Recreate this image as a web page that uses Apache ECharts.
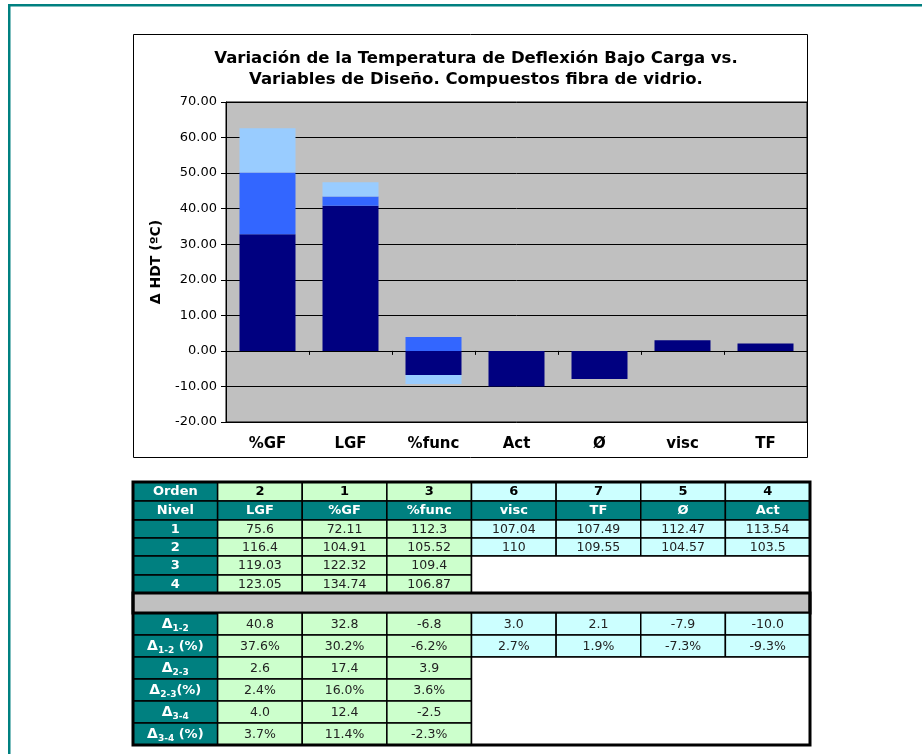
<!DOCTYPE html>
<html><head><meta charset="utf-8">
<script src="https://cdn.jsdelivr.net/npm/echarts@6/dist/echarts.min.js"></script>
<style>html,body{margin:0;padding:0;background:#fff}#c{width:922px;height:754px}</style>
</head><body><div id="c"></div>
<script>
// ---------- chart data ----------
const chartTitle = 'Variación de la Temperatura de Deflexión Bajo Carga vs.\nVariables de Diseño. Compuestos fibra de vidrio.';
const yAxisName = 'Δ HDT (ºC)';
const chartCategories = ['%GF', 'LGF', '%func', 'Act', 'Ø', 'visc', 'TF'];
const barDelta12 = [32.8, 40.8, -6.8, -10.0, -7.9, 3.0, 2.1];
const barDelta23 = [17.4, 2.6, 3.9, null, null, null, null];
const barDelta34 = [12.4, 4.0, -2.5, null, null, null, null];

// ---------- table data ----------
const rowLabels = ['Orden', 'Nivel', '1', '2', '3', '4', '',
  '{d|Δ}{s|1-2}', '{d|Δ}{s|1-2}{t| (%)}', '{d|Δ}{s|2-3}', '{d|Δ}{s|2-3}{t|(%)}', '{d|Δ}{s|3-4}', '{d|Δ}{s|3-4}{t| (%)}'];
const tableOrder = [2, 1, 3, 6, 7, 5, 4];
const tableVariables = ['LGF', '%GF', '%func', 'visc', 'TF', 'Ø', 'Act'];
const nivel1 = [75.6, 72.11, 112.3, 107.04, 107.49, 112.47, 113.54];
const nivel2 = [116.4, 104.91, 105.52, 110, 109.55, 104.57, 103.5];
const nivel3 = [119.03, 122.32, 109.4];
const nivel4 = [123.05, 134.74, 106.87];
const delta12 = [40.8, 32.8, -6.8, 3.0, 2.1, -7.9, -10.0];
const delta12Pct = [37.6, 30.2, -6.2, 2.7, 1.9, -7.3, -9.3];
const delta23 = [2.6, 17.4, 3.9];
const delta23Pct = [2.4, 16.0, 3.6];
const delta34 = [4.0, 12.4, -2.5];
const delta34Pct = [3.7, 11.4, -2.3];

// ---------- layout / style ----------
const FONT = 'DejaVu Sans';
const TEAL = '#008080', GREEN = '#CCFFCC', CYAN = '#CCFFFF', GRAY = '#C0C0C0';
const rowH = [19, 19, 18, 18, 19, 18, 20, 22, 22, 22, 22, 22, 22];
const rowEdge = [0];
rowH.forEach(h => rowEdge.push(rowEdge[rowEdge.length - 1] + h));
const tableH = rowEdge[rowEdge.length - 1];

const cells = [];
function add(c, r, text, fill, kind, cs, rs) {
  cells.push({ c, r, text, fill, kind, cs: cs || 1, rs: rs || 1 });
}
const colFill = j => (j < 3 ? GREEN : CYAN);
rowLabels.forEach((lab, r) => { if (r !== 6) add(0, r, lab, TEAL, 'hdr'); });
tableOrder.forEach((v, j) => add(j + 1, 0, String(v), colFill(j), 'ord'));
tableVariables.forEach((v, j) => add(j + 1, 1, v, TEAL, 'hdr'));
nivel1.forEach((v, j) => add(j + 1, 2, String(v), colFill(j), 'val'));
nivel2.forEach((v, j) => add(j + 1, 3, String(v), colFill(j), 'val'));
nivel3.forEach((v, j) => add(j + 1, 4, String(v), colFill(j), 'val'));
nivel4.forEach((v, j) => add(j + 1, 5, String(v), colFill(j), 'val'));
add(4, 4, '', '#fff', 'blank', 4, 2);
add(0, 6, '', GRAY, 'gray', 8, 1);
delta12.forEach((v, j) => add(j + 1, 7, v.toFixed(1), colFill(j), 'val'));
delta12Pct.forEach((v, j) => add(j + 1, 8, v.toFixed(1) + '%', colFill(j), 'val'));
delta23.forEach((v, j) => add(j + 1, 9, v.toFixed(1), colFill(j), 'val'));
delta23Pct.forEach((v, j) => add(j + 1, 10, v.toFixed(1) + '%', colFill(j), 'val'));
delta34.forEach((v, j) => add(j + 1, 11, v.toFixed(1), colFill(j), 'val'));
delta34Pct.forEach((v, j) => add(j + 1, 12, v.toFixed(1) + '%', colFill(j), 'val'));
add(4, 9, '', '#fff', 'blank', 4, 4);
add(0, 0, '', 'none', 'outline', 8, 13);

const textStyles = {
  hdr: { fill: '#fff', fontWeight: 'bold', fontSize: 13 },
  ord: { fill: '#000', fontWeight: 'bold', fontSize: 13 },
  val: { fill: '#222', fontWeight: 'normal', fontSize: 12.5 }
};
const richLabel = {
  d: { fontFamily: FONT, fontSize: 14, fontWeight: 'bold', color: '#fff', lineHeight: 18 },
  s: { fontFamily: FONT, fontSize: 9, fontWeight: 'bold', color: '#fff', lineHeight: 10, verticalAlign: 'bottom' },
  t: { fontFamily: FONT, fontSize: 13, fontWeight: 'bold', color: '#fff', lineHeight: 18 }
};

const chart = echarts.init(document.getElementById('c'), null, { renderer: 'canvas' });
chart.setOption({
  backgroundColor: '#fff',
  animation: false,
  textStyle: { fontFamily: FONT },
  title: {
    text: chartTitle, left: 471, top: 43, textAlign: 'center',
    textStyle: { fontFamily: FONT, fontSize: 16.5, fontWeight: 'bold', color: '#000', lineHeight: 21 }
  },
  graphic: [
    { type: 'rect', z: -5, shape: { x: 8, y: 4, width: 914, height: 2.5 }, style: { fill: TEAL } },
    { type: 'rect', z: -5, shape: { x: 8, y: 4, width: 2.5, height: 750 }, style: { fill: TEAL } },
    { type: 'rect', z: -5, shape: { x: 133.5, y: 34.5, width: 674, height: 423 }, style: { fill: 'none', stroke: '#000', lineWidth: 1 } }
  ],
  grid: [
    { left: 226, top: 102, width: 581, height: 320, show: true, backgroundColor: GRAY, borderColor: '#000', borderWidth: 1 },
    { left: 133, top: 482, width: 677, height: tableH }
  ],
  xAxis: [
    { type: 'category', gridIndex: 0, data: chartCategories, position: 'bottom',
      axisLine: { show: false, onZero: false }, axisTick: { show: false },
      axisLabel: { interval: 0, margin: 15, fontFamily: FONT, fontSize: 15, fontWeight: 'bold', color: '#000' } },
    { type: 'category', gridIndex: 0, data: chartCategories, position: 'bottom',
      axisLine: { show: true, onZero: true, lineStyle: { color: '#000', width: 1 } },
      axisTick: { show: true, length: 4, lineStyle: { color: '#000' } },
      axisLabel: { show: false } },
    { type: 'value', gridIndex: 1, min: 0, max: 8, show: false }
  ],
  yAxis: [
    { type: 'value', gridIndex: 0, min: -20, max: 70, interval: 10,
      name: yAxisName, nameLocation: 'middle', nameGap: 63, nameRotate: 90,
      nameTextStyle: { fontFamily: FONT, fontSize: 14, fontWeight: 'bold', color: '#000' },
      axisLine: { show: true, lineStyle: { color: '#000' } },
      axisTick: { show: true, length: 5, lineStyle: { color: '#000' } },
      axisLabel: { margin: 9, fontFamily: FONT, fontSize: 13, color: '#000', formatter: v => v.toFixed(2) },
      splitLine: { show: true, lineStyle: { color: '#000', width: 1 } } },
    { type: 'value', gridIndex: 1, min: 0, max: tableH, inverse: true, show: false }
  ],
  series: [
    { type: 'bar', name: 'Δ1-2', xAxisIndex: 0, yAxisIndex: 0, stack: 'hdt', data: barDelta12, barWidth: 56, itemStyle: { color: '#000080' } },
    { type: 'bar', name: 'Δ2-3', xAxisIndex: 0, yAxisIndex: 0, stack: 'hdt', data: barDelta23, barWidth: 56, itemStyle: { color: '#3366FF' } },
    { type: 'bar', name: 'Δ3-4', xAxisIndex: 0, yAxisIndex: 0, stack: 'hdt', data: barDelta34, barWidth: 56, itemStyle: { color: '#99CCFF' } },
    { type: 'custom', xAxisIndex: 2, yAxisIndex: 1, clip: false, silent: true,
      data: cells.map(cell => [cell.c, cell.r]),
      renderItem: function (params, api) {
        const cell = cells[params.dataIndex];
        const c = api.value(0), r = api.value(1);
        const p0 = api.coord([c, rowEdge[r]]);
        const p1 = api.coord([c + cell.cs, rowEdge[r + cell.rs]]);
        const x = Math.min(p0[0], p1[0]), y = Math.min(p0[1], p1[1]);
        const w = Math.abs(p1[0] - p0[0]), h = Math.abs(p1[1] - p0[1]);
        if (cell.kind === 'outline') {
          return { type: 'rect', z2: 10, shape: { x, y, width: w, height: h }, style: { fill: 'none', stroke: '#000', lineWidth: 3 } };
        }
        const children = [{ type: 'rect', shape: { x, y, width: w, height: h },
          style: { fill: cell.fill, stroke: '#000', lineWidth: cell.kind === 'gray' ? 3 : 1.5 } }];
        if (cell.text) {
          const ts = textStyles[cell.kind];
          children.push({ type: 'text', z2: 5, style: {
            text: cell.text, x: x + w / 2, y: y + h / 2 + 0.5, align: 'center', verticalAlign: 'middle',
            fontFamily: FONT, fontSize: ts.fontSize, fontWeight: ts.fontWeight, fill: ts.fill, rich: richLabel } });
        }
        return { type: 'group', children };
      } }
  ]
});
</script></body></html>
